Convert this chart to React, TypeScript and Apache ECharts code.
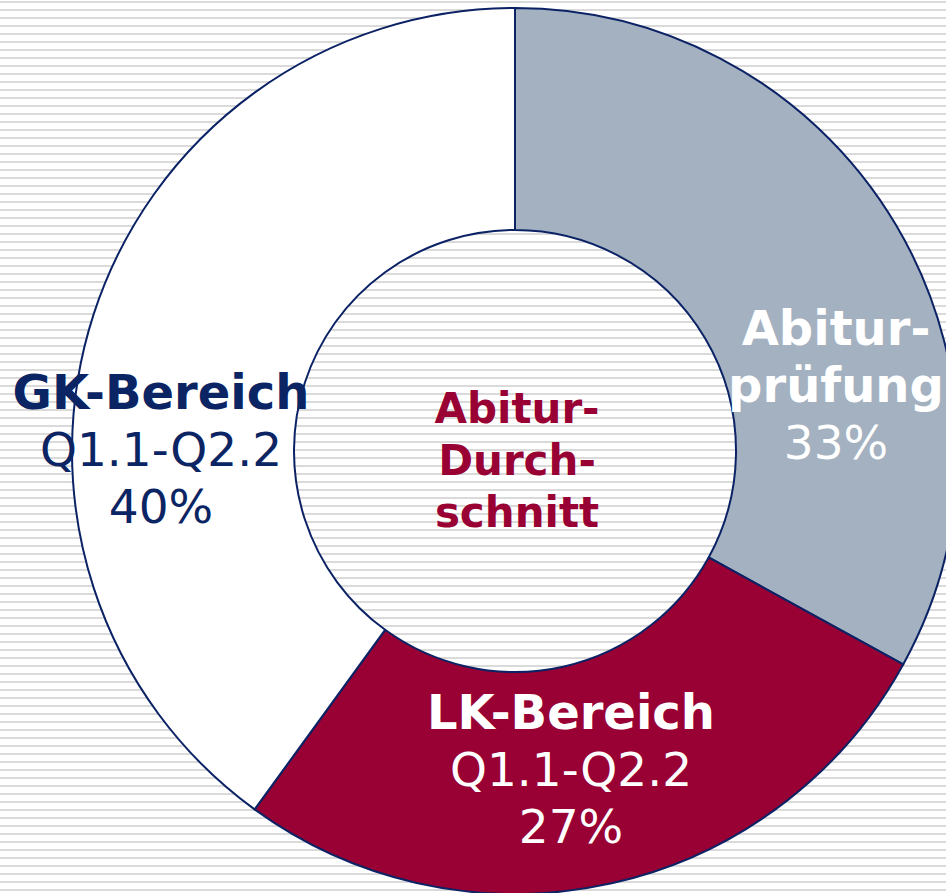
import React, { useEffect, useRef } from "react";
import * as echarts from "echarts";

const categories = ["Abiturprüfung", "LK-Bereich", "GK-Bereich"];
const labelTitles = [["Abitur-", "prüfung"], ["LK-Bereich"], ["GK-Bereich"]];
const labelSubtitles = ["", "Q1.1-Q2.2", "Q1.1-Q2.2"];
const shares = [33, 27, 40];
const sliceColors = ["#a3b1c0", "#990033", "#ffffff"];
const labelColors = ["#ffffff", "#ffffff", "#0b2463"];
const labelCenters = [
  [836, 385],
  [571, 769],
  [161, 449],
];
const centerLines = ["Abitur-", "Durch-", "schnitt"];

const FONT = "'DejaVu Sans', Verdana, sans-serif";
const NAVY = "#0b2265";

export default function App() {
  const ref = useRef<HTMLDivElement>(null);
  useEffect(() => {
    if (!ref.current) return;
    const chart = echarts.init(ref.current, undefined, { renderer: "svg" });
    const data = categories.map((name, i) => ({
      name,
      value: shares[i],
      itemStyle: { color: sliceColors[i] },
      label: {
        color: labelColors[i],
        rich: {
          t: { fontFamily: FONT, fontWeight: "bold", fontSize: 48, lineHeight: 57, color: labelColors[i] },
          v: { fontFamily: FONT, fontWeight: "normal", fontSize: 47, lineHeight: 57, color: labelColors[i] },
        },
      },
    }));
    chart.setOption({
      animation: false,
      backgroundColor: "transparent",
      series: [
        {
          type: "pie",
          center: [515, 451],
          radius: [221, 443],
          startAngle: 90,
          clockwise: true,
          avoidLabelOverlap: false,
          emphasis: { disabled: true },
          itemStyle: { borderColor: NAVY, borderWidth: 2 },
          labelLine: { show: false },
          label: {
            show: true,
            position: "inside",
            align: "center",
            verticalAlign: "middle",
            formatter: (p: any) => {
              const i = p.dataIndex;
              const lines = labelTitles[i].map((s) => `{t|${s}}`);
              if (labelSubtitles[i]) lines.push(`{v|${labelSubtitles[i]}}`);
              lines.push(`{v|${shares[i]}%}`);
              return lines.join("\n");
            },
          },
          labelLayout: (p: any) => ({
            x: labelCenters[p.dataIndex][0],
            y: labelCenters[p.dataIndex][1],
          }),
          data,
        },
      ],
      graphic: [
        {
          type: "text",
          x: 517,
          y: 460,
          style: {
            text: centerLines.join("\n"),
            font: `bold 42px ${FONT}`,
            lineHeight: 52,
            fill: "#990033",
            align: "center",
            verticalAlign: "middle",
          },
        },
      ],
    });
    return () => chart.dispose();
  }, []);
  return (
    <div
      ref={ref}
      style={{
        position: "absolute",
        left: 0,
        top: 0,
        width: 946,
        height: 893,
        overflow: "hidden",
        background:
          "repeating-linear-gradient(to bottom, #ffffff 0px, #ffffff 1px, #dadada 1px, #dadada 3px, #ffffff 3px, #ffffff 8px)",
      }}
    />
  );
}
